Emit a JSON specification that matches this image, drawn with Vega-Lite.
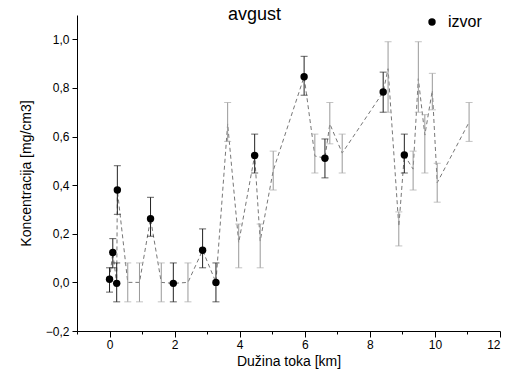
{
  "$schema": "https://vega.github.io/schema/vega-lite/v6.json",
  "width": 423,
  "height": 316,
  "autosize": {"type": "none"},
  "padding": {"left": 77, "top": 15, "right": 18, "bottom": 49},
  "background": "white",
  "config": {
    "font": "Liberation Sans",
    "view": {"stroke": null},
    "axis": {"grid": false, "domainColor": "black", "tickColor": "black", "labelColor": "black", "titleColor": "black", "titleFontWeight": "normal", "labelFont": "Liberation Sans", "titleFont": "Liberation Sans"}
  },
  "title": {"text": "avgust", "fontSize": 18, "fontWeight": "normal", "anchor": "middle", "dx": -34, "baseline": "alphabetic", "offset": 0, "dy": 24, "color": "black"},
  "data": {
    "values": [
      {"x": 0.0, "y": 0.013, "lo": -0.04, "hi": 0.06, "tip": "izvor"},
      {"x": 0.1, "y": 0.123, "lo": 0.06, "hi": 0.18, "tip": "izvor"},
      {"x": 0.22, "y": -0.004, "lo": -0.08, "hi": 0.08, "tip": "izvor"},
      {"x": 0.24, "y": 0.38, "lo": 0.28, "hi": 0.48, "tip": "izvor"},
      {"x": 0.56, "y": 0.0, "lo": -0.08, "hi": 0.08, "tip": "drugi"},
      {"x": 0.92, "y": 0.0, "lo": -0.08, "hi": 0.08, "tip": "drugi"},
      {"x": 1.26, "y": 0.262, "lo": 0.19, "hi": 0.35, "tip": "izvor"},
      {"x": 1.59, "y": 0.0, "lo": -0.08, "hi": 0.08, "tip": "drugi"},
      {"x": 1.96, "y": -0.004, "lo": -0.08, "hi": 0.08, "tip": "izvor"},
      {"x": 2.41, "y": 0.0, "lo": -0.08, "hi": 0.08, "tip": "drugi"},
      {"x": 2.86, "y": 0.132, "lo": 0.06, "hi": 0.22, "tip": "izvor"},
      {"x": 3.27, "y": 0.0, "lo": -0.08, "hi": 0.08, "tip": "izvor"},
      {"x": 3.63, "y": 0.652, "lo": 0.58, "hi": 0.74, "tip": "drugi"},
      {"x": 3.97, "y": 0.163, "lo": 0.06, "hi": 0.24, "tip": "drugi"},
      {"x": 4.46, "y": 0.522, "lo": 0.45, "hi": 0.61, "tip": "izvor"},
      {"x": 4.63, "y": 0.17, "lo": 0.06, "hi": 0.24, "tip": "drugi"},
      {"x": 5.03, "y": 0.46, "lo": 0.38, "hi": 0.54, "tip": "drugi"},
      {"x": 5.98, "y": 0.846, "lo": 0.77, "hi": 0.93, "tip": "izvor"},
      {"x": 6.31, "y": 0.52, "lo": 0.45, "hi": 0.61, "tip": "drugi"},
      {"x": 6.62, "y": 0.511, "lo": 0.43, "hi": 0.59, "tip": "izvor"},
      {"x": 6.77, "y": 0.652, "lo": 0.57, "hi": 0.74, "tip": "drugi"},
      {"x": 7.15, "y": 0.532, "lo": 0.45, "hi": 0.61, "tip": "drugi"},
      {"x": 8.41, "y": 0.783, "lo": 0.7, "hi": 0.865, "tip": "izvor"},
      {"x": 8.56, "y": 0.879, "lo": 0.7, "hi": 0.99, "tip": "drugi"},
      {"x": 8.89, "y": 0.23, "lo": 0.15, "hi": 0.29, "tip": "drugi"},
      {"x": 9.06, "y": 0.524, "lo": 0.45, "hi": 0.61, "tip": "izvor"},
      {"x": 9.33, "y": 0.466, "lo": 0.38, "hi": 0.54, "tip": "drugi"},
      {"x": 9.49, "y": 0.838, "lo": 0.7, "hi": 0.99, "tip": "drugi"},
      {"x": 9.69, "y": 0.606, "lo": 0.45, "hi": 0.69, "tip": "drugi"},
      {"x": 9.92, "y": 0.79, "lo": 0.71, "hi": 0.86, "tip": "drugi"},
      {"x": 10.07, "y": 0.41, "lo": 0.33, "hi": 0.49, "tip": "drugi"},
      {"x": 11.05, "y": 0.659, "lo": 0.58, "hi": 0.74, "tip": "drugi"}
    ]
  },
  "encoding": {
    "x": {
      "field": "x", "type": "quantitative",
      "scale": {"domain": [-1, 12], "nice": false, "zero": false},
      "axis": {
        "title": "Dužina toka [km]", "titleFontSize": 14, "titlePadding": 4,
        "values": [-1, 0, 1, 2, 3, 4, 5, 6, 7, 8, 9, 10, 11, 12],
        "labelExpr": "datum.value % 2 == 0 ? datum.value : ''",
        "labelFontSize": 12, "labelPadding": 2,
        "tickSize": {"condition": {"test": "datum.value % 2 != 0", "value": 3}, "value": 6}
      }
    }
  },
  "layer": [
    {
      "mark": {"type": "line", "color": "#777", "strokeWidth": 1, "strokeDash": [4, 3]},
      "encoding": {
        "y": {
          "field": "y", "type": "quantitative",
          "scale": {"domain": [-0.2, 1.1], "nice": false, "zero": false},
          "axis": {
            "title": "Koncentracija [mg/cm3]", "titleFontSize": 14, "titlePadding": 12,
            "values": [-0.2, -0.1, 0, 0.1, 0.2, 0.3, 0.4, 0.5, 0.6, 0.7, 0.8, 0.9, 1.0, 1.1],
            "labelExpr": "abs(round(datum.value*10)) % 2 == 0 ? replace(format(datum.value, '.1f'), '.', ',') : ''",
            "labelFontSize": 12, "labelPadding": 3,
            "tickSize": {"condition": {"test": "abs(round(datum.value*10)) % 2 == 1", "value": 3}, "value": 5}
          }
        }
      }
    },
    {
      "mark": {"type": "rule", "strokeWidth": 1},
      "encoding": {
        "y": {"field": "lo", "type": "quantitative"},
        "y2": {"field": "hi"},
        "color": {"condition": {"test": "datum.tip === 'izvor'", "value": "#222"}, "value": "#999"}
      }
    },
    {
      "mark": {"type": "tick", "orient": "horizontal", "size": 7, "thickness": 1},
      "encoding": {
        "y": {"field": "lo", "type": "quantitative"},
        "color": {"condition": {"test": "datum.tip === 'izvor'", "value": "#222"}, "value": "#aaa"}
      }
    },
    {
      "mark": {"type": "tick", "orient": "horizontal", "size": 7, "thickness": 1},
      "encoding": {
        "y": {"field": "hi", "type": "quantitative"},
        "color": {"condition": {"test": "datum.tip === 'izvor'", "value": "#222"}, "value": "#aaa"}
      }
    },
    {
      "transform": [{"filter": "datum.tip === 'izvor'"}],
      "mark": {"type": "point", "filled": true, "size": 55, "opacity": 1},
      "encoding": {
        "y": {"field": "y", "type": "quantitative"},
        "color": {
          "field": "tip", "type": "nominal",
          "scale": {"domain": ["izvor"], "range": ["black"]},
          "legend": {"title": null, "orient": "none", "legendX": 347, "legendY": -1, "padding": 0, "labelFontSize": 16, "labelOffset": 8, "symbolSize": 55, "labelColor": "black", "labelFont": "Liberation Sans"}
        }
      }
    }
  ]
}
